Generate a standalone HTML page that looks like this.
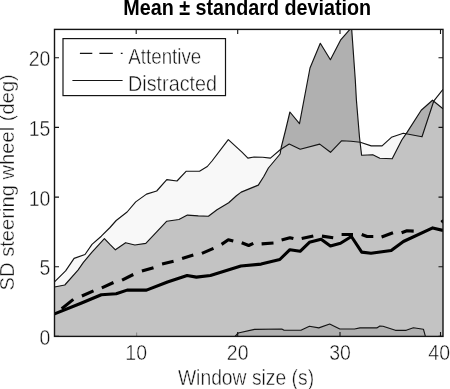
<!DOCTYPE html>
<html lang="en"><head><meta charset="utf-8"><title>Mean ± standard deviation</title>
<style>html,body{margin:0;padding:0;background:#fff}body{width:450px;height:389px;overflow:hidden}svg{display:block}text{font-family:"Liberation Sans",Arial,Helvetica,sans-serif;fill:#111;stroke:#fff;stroke-width:0.4px}</style></head><body>
<svg width="450" height="389" viewBox="0 0 450 389">
<rect width="450" height="389" fill="#fff"/>
<defs><clipPath id="ax"><rect x="54.5" y="29.4" width="388.5" height="307.0"/></clipPath><clipPath id="du"><polygon points="54.5,336.4 54.5,287.0 64.8,285.0 78.0,270.1 83.4,262.3 92.0,252.2 104.4,238.7 109.9,244.4 115.4,249.8 125.6,242.7 134.9,245.0 145.8,243.4 156.7,231.8 166.8,221.2 178.9,219.5 187.4,215.1 198.3,215.9 208.4,216.2 217.0,209.7 228.7,202.7 236.4,195.7 241.2,192.1 258.3,185.1 263.8,176.5 268.4,168.0 280.1,154.0 281.3,147.0 285.6,130.0 289.9,112.0 299.5,123.7 310.0,68.0 320.3,43.3 330.4,59.7 340.5,40.2 349.9,29.4 350.8,20.0 351.7,29.4 355.3,80.0 356.4,100.0 359.5,137.3 361.6,155.2 372.8,154.7 379.8,158.3 392.2,158.8 401.8,140.0 407.2,132.1 421.2,110.3 432.5,100.2 443.0,108.8 443.0,336.4"/></clipPath></defs>
<g clip-path="url(#ax)">
<polygon points="54.5,281.8 65.6,270.9 74.1,258.4 85.0,254.5 92.0,244.4 101.3,236.2 110.0,227.5 116.2,220.5 127.1,212.0 135.7,201.9 146.5,194.1 156.7,191.0 166.8,179.6 177.0,181.0 186.3,171.2 199.5,171.2 207.3,166.5 212.0,161.0 228.3,139.6 241.7,151.9 247.9,158.1 254.1,157.0 262.7,157.3 270.4,158.1 280.5,149.5 289.2,144.1 300.2,149.2 319.7,144.1 330.5,152.3 341.5,140.8 351.0,141.2 360.3,142.3 371.2,145.9 382.1,145.9 391.4,137.3 403.3,133.2 422.0,136.8 433.7,101.2 443.0,89.3 443.0,336.4 425.4,336.4 423.4,329.2 413.4,327.8 406.2,330.3 395.4,330.3 383.0,326.3 379.9,326.0 376.8,327.9 360.0,327.9 354.5,329.0 339.8,329.0 329.7,324.0 318.8,327.9 309.4,326.3 300.9,330.2 284.1,330.2 281.8,329.0 254.5,329.4 238.2,333.0 235.1,336.4 54.5,336.4" fill="#f8f8f8"/>
<polygon points="54.5,336.4 54.5,287.0 64.8,285.0 78.0,270.1 83.4,262.3 92.0,252.2 104.4,238.7 109.9,244.4 115.4,249.8 125.6,242.7 134.9,245.0 145.8,243.4 156.7,231.8 166.8,221.2 178.9,219.5 187.4,215.1 198.3,215.9 208.4,216.2 217.0,209.7 228.7,202.7 236.4,195.7 241.2,192.1 258.3,185.1 263.8,176.5 268.4,168.0 280.1,154.0 281.3,147.0 285.6,130.0 289.9,112.0 299.5,123.7 310.0,68.0 320.3,43.3 330.4,59.7 340.5,40.2 349.9,29.4 350.8,20.0 351.7,29.4 355.3,80.0 356.4,100.0 359.5,137.3 361.6,155.2 372.8,154.7 379.8,158.3 392.2,158.8 401.8,140.0 407.2,132.1 421.2,110.3 432.5,100.2 443.0,108.8 443.0,336.4" fill="#b0b0b0"/>
<g clip-path="url(#du)"><polygon points="54.5,281.8 65.6,270.9 74.1,258.4 85.0,254.5 92.0,244.4 101.3,236.2 110.0,227.5 116.2,220.5 127.1,212.0 135.7,201.9 146.5,194.1 156.7,191.0 166.8,179.6 177.0,181.0 186.3,171.2 199.5,171.2 207.3,166.5 212.0,161.0 228.3,139.6 241.7,151.9 247.9,158.1 254.1,157.0 262.7,157.3 270.4,158.1 280.5,149.5 289.2,144.1 300.2,149.2 319.7,144.1 330.5,152.3 341.5,140.8 351.0,141.2 360.3,142.3 371.2,145.9 382.1,145.9 391.4,137.3 403.3,133.2 422.0,136.8 433.7,101.2 443.0,89.3 443.0,336.4 425.4,336.4 423.4,329.2 413.4,327.8 406.2,330.3 395.4,330.3 383.0,326.3 379.9,326.0 376.8,327.9 360.0,327.9 354.5,329.0 339.8,329.0 329.7,324.0 318.8,327.9 309.4,326.3 300.9,330.2 284.1,330.2 281.8,329.0 254.5,329.4 238.2,333.0 235.1,336.4 54.5,336.4" fill="#c3c3c3"/></g>
<polyline points="54.5,287.0 64.8,285.0 78.0,270.1 83.4,262.3 92.0,252.2 104.4,238.7 109.9,244.4 115.4,249.8 125.6,242.7 134.9,245.0 145.8,243.4 156.7,231.8 166.8,221.2 178.9,219.5 187.4,215.1 198.3,215.9 208.4,216.2 217.0,209.7 228.7,202.7 236.4,195.7 241.2,192.1 258.3,185.1 263.8,176.5 268.4,168.0 280.1,154.0 281.3,147.0 285.6,130.0 289.9,112.0 299.5,123.7 310.0,68.0 320.3,43.3 330.4,59.7 340.5,40.2 349.9,29.4 350.8,20.0 351.7,29.4 355.3,80.0 356.4,100.0 359.5,137.3 361.6,155.2 372.8,154.7 379.8,158.3 392.2,158.8 401.8,140.0 407.2,132.1 421.2,110.3 432.5,100.2 443.0,108.8" fill="none" stroke="#141414" stroke-width="1.15" stroke-linejoin="round"/>
<polyline points="54.5,281.8 65.6,270.9 74.1,258.4 85.0,254.5 92.0,244.4 101.3,236.2 110.0,227.5 116.2,220.5 127.1,212.0 135.7,201.9 146.5,194.1 156.7,191.0 166.8,179.6 177.0,181.0 186.3,171.2 199.5,171.2 207.3,166.5 212.0,161.0 228.3,139.6 241.7,151.9 247.9,158.1 254.1,157.0 262.7,157.3 270.4,158.1 280.5,149.5 289.2,144.1 300.2,149.2 319.7,144.1 330.5,152.3 341.5,140.8 351.0,141.2 360.3,142.3 371.2,145.9 382.1,145.9 391.4,137.3 403.3,133.2 422.0,136.8 433.7,101.2 443.0,89.3" fill="none" stroke="#141414" stroke-width="1.15" stroke-linejoin="round"/>
<polyline points="235.1,336.4 238.2,333.0 254.5,329.4 281.8,329.0 284.1,330.2 300.9,330.2 309.4,326.3 318.8,327.9 329.7,324.0 339.8,329.0 354.5,329.0 360.0,327.9 376.8,327.9 379.9,326.0 383.0,326.3 395.4,330.3 406.2,330.3 413.4,327.8 423.4,329.2 425.4,336.4" fill="none" stroke="#141414" stroke-width="1.15" stroke-linejoin="round"/>
<polyline points="61.7,308.8 73.3,299.4" fill="none" stroke="#000" stroke-width="3.1" stroke-linejoin="round"/>
<polyline points="81.9,296.0 93.5,290.9" fill="none" stroke="#000" stroke-width="3.1" stroke-linejoin="round"/>
<polyline points="101.8,287.8 113.5,282.5" fill="none" stroke="#000" stroke-width="3.1" stroke-linejoin="round"/>
<polyline points="122.1,280.1 133.3,274.5" fill="none" stroke="#000" stroke-width="3.1" stroke-linejoin="round"/>
<polyline points="141.9,271.1 153.5,267.7" fill="none" stroke="#000" stroke-width="3.1" stroke-linejoin="round"/>
<polyline points="162.1,264.1 173.6,261.2" fill="none" stroke="#000" stroke-width="3.1" stroke-linejoin="round"/>
<polyline points="182.1,258.4 193.3,254.9" fill="none" stroke="#000" stroke-width="3.1" stroke-linejoin="round"/>
<polyline points="201.9,253.3 213.5,248.3" fill="none" stroke="#000" stroke-width="3.1" stroke-linejoin="round"/>
<polyline points="221.6,244.4 228.3,239.8 233.3,241.0" fill="none" stroke="#000" stroke-width="3.1" stroke-linejoin="round"/>
<polyline points="241.7,242.7 248.7,245.5 253.3,243.4" fill="none" stroke="#000" stroke-width="3.1" stroke-linejoin="round"/>
<polyline points="261.6,243.9 273.5,243.0" fill="none" stroke="#000" stroke-width="3.1" stroke-linejoin="round"/>
<polyline points="281.6,239.9 289.9,237.7 293.4,238.6" fill="none" stroke="#000" stroke-width="3.1" stroke-linejoin="round"/>
<polyline points="301.7,238.6 313.3,236.1" fill="none" stroke="#000" stroke-width="3.1" stroke-linejoin="round"/>
<polyline points="321.9,236.1 333.2,237.8" fill="none" stroke="#000" stroke-width="3.1" stroke-linejoin="round"/>
<polyline points="341.6,234.5 353.0,234.5" fill="none" stroke="#000" stroke-width="3.1" stroke-linejoin="round"/>
<polyline points="361.7,234.5 367.1,236.5 373.3,236.5" fill="none" stroke="#000" stroke-width="3.1" stroke-linejoin="round"/>
<polyline points="381.6,237.0 393.0,232.8" fill="none" stroke="#000" stroke-width="3.1" stroke-linejoin="round"/>
<polyline points="401.6,232.7 407.0,230.8 413.7,231.1" fill="none" stroke="#000" stroke-width="3.1" stroke-linejoin="round"/>
<polyline points="441.4,222.2 443.5,220.6" fill="none" stroke="#000" stroke-width="3.1" stroke-linejoin="round"/>
<polyline points="54.5,313.9 81.0,303.3 101.3,294.8 116.2,293.7 127.1,290.1 146.5,290.1 167.5,282.0 187.1,275.5 196.4,277.1 210.4,275.5 240.9,266.0 261.1,264.1 279.8,259.5 289.9,249.7 300.1,251.3 309.4,242.3 321.1,239.2 330.4,245.9 340.5,243.2 351.4,236.5 361.7,252.1 371.0,253.3 391.2,250.5 403.4,241.5 432.7,227.9 443.0,230.4" fill="none" stroke="#000" stroke-width="3.1" stroke-linejoin="round"/>
</g>
<rect x="54.5" y="29.4" width="388.5" height="307.0" fill="none" stroke="#141414" stroke-width="1.4"/>
<path d="M136.6 336.4v-4" stroke="#141414" stroke-opacity="0.3" stroke-width="1.2" fill="none"/>
<path d="M54.5 336.4h4.5M443.0 336.4h-4.5M54.5 266.7h4.5M443.0 266.7h-4.5M54.5 197.1h4.5M443.0 197.1h-4.5M54.5 127.4h4.5M443.0 127.4h-4.5M54.5 57.8h4.5M443.0 57.8h-4.5M136.2 29.4v4.5M237.7 336.4v-4.5M237.7 29.4v4.5M340.0 336.4v-4.5M340.0 29.4v4.5M440.5 336.4v-4.5M440.5 29.4v4.5" stroke="#141414" stroke-width="1.1" fill="none"/>
<text transform="translate(50.4 345.0) scale(1 1.09)" font-size="19.5" text-anchor="end">0</text>
<text transform="translate(50.4 275.3) scale(1 1.09)" font-size="19.5" text-anchor="end">5</text>
<text transform="translate(50.4 205.7) scale(1 1.09)" font-size="19.5" text-anchor="end">10</text>
<text transform="translate(50.4 136.0) scale(1 1.09)" font-size="19.5" text-anchor="end">15</text>
<text transform="translate(50.4 66.4) scale(1 1.09)" font-size="19.5" text-anchor="end">20</text>
<text transform="translate(136.2 359.8) scale(1 1.09)" font-size="19.5" text-anchor="middle">10</text>
<text transform="translate(237.7 359.8) scale(1 1.09)" font-size="19.5" text-anchor="middle">20</text>
<text transform="translate(340.0 359.8) scale(1 1.09)" font-size="19.5" text-anchor="middle">30</text>
<text transform="translate(439.2 359.8) scale(1 1.09)" font-size="19.5" text-anchor="middle">40</text>
<text transform="translate(177.9 384.8) scale(1 1.09)" font-size="19.5" textLength="136.2" lengthAdjust="spacingAndGlyphs">Window size (s)</text>
<text transform="translate(14.1 290.4) rotate(-90) scale(1 0.99)" font-size="19.5" textLength="216.2" lengthAdjust="spacingAndGlyphs">SD steering wheel (deg)</text>
<text transform="translate(123.2 14.6) scale(1 1.06)" font-size="20" textLength="248" lengthAdjust="spacingAndGlyphs" font-weight="bold" style="stroke:none;fill:#000">Mean ± standard deviation</text>
<rect x="63" y="38.6" width="162.5" height="57" fill="#fff" stroke="#141414" stroke-width="1.2"/>
<path d="M79.9 53.3H92.3M99.4 53.3H112.8M120.8 53.3H122.6" stroke="#141414" stroke-width="1.2" fill="none"/>
<path d="M72.4 80.5H122.6" stroke="#141414" stroke-width="1.2" fill="none"/>
<text transform="translate(128.3 64.2) scale(1 1.09)" font-size="19.5" textLength="73" lengthAdjust="spacingAndGlyphs">Attentive</text>
<text transform="translate(128.0 90.5) scale(1 1.09)" font-size="19.5" textLength="89" lengthAdjust="spacingAndGlyphs">Distracted</text>
</svg></body></html>
